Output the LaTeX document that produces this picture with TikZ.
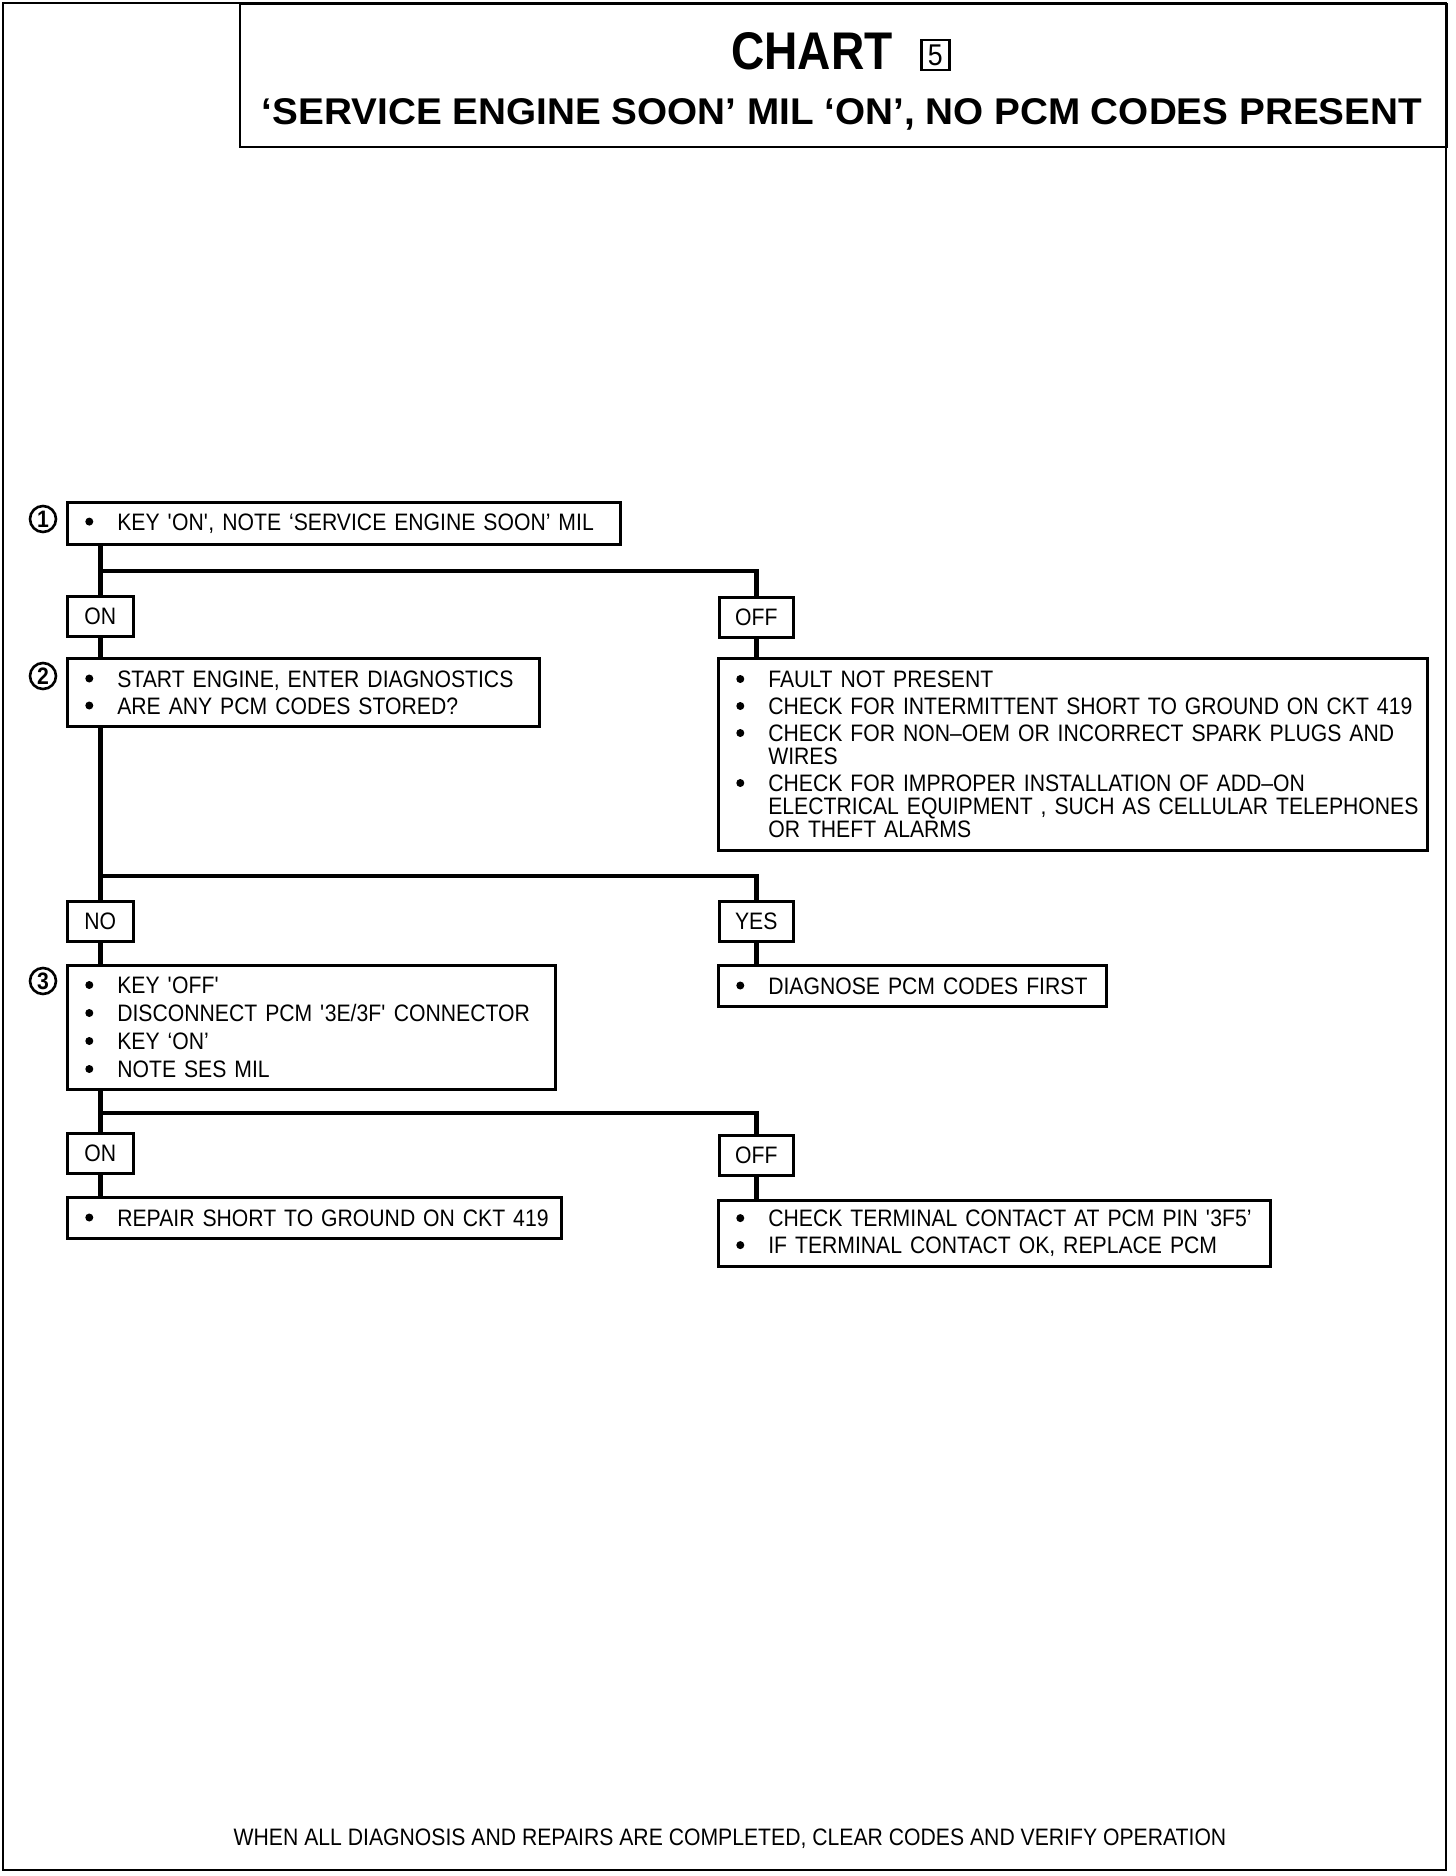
\documentclass[tikz,border=0pt]{standalone}
\usepackage{fontspec}
\setmainfont[Ligatures=TeX]{Liberation Sans}
\newfontfamily\chartfont[Ligatures=TeX, FakeStretch=0.89]{Liberation Sans}
\newfontfamily\titlefont[Ligatures=TeX, FakeStretch=1.04]{Liberation Sans}
\newfontfamily\headfont[Ligatures=TeX, FakeStretch=0.87]{Liberation Sans}
\usetikzlibrary{positioning,calc}

\newcommand{\bodysize}{\chartfont\fontsize{11.9}{11.5}\selectfont}
\newcommand{\chdot}{\tikz[baseline=-4.25pt]\fill (0,0) circle (2pt);}
\newcommand{\chbul}{\hspace*{4pt}\makebox[17pt][l]{\hspace*{1pt}\chdot}}
\newcommand{\chind}{\hspace*{21pt}}
\newcommand{\sq}{\textquotesingle}

\begin{document}
\begin{tikzpicture}[
  x=0.5pt, y=-0.5pt,
  font=\bodysize,
  frame/.style={draw, line width=1.2pt},
  stepbox/.style={
    draw, line width=1.3pt, anchor=north west,
    inner xsep=4pt, inner ysep=0pt, align=left
  },
  answerbox/.style={
    draw, line width=1.3pt, anchor=north west,
    inner sep=0pt, minimum height=20pt
  },
  leftanswer/.style={answerbox, minimum width=33pt},
  rightanswer/.style={answerbox, minimum width=37pt},
  numcircle/.style={
    circle, draw, line width=1.3pt, minimum size=13pt, inner sep=0pt,
    font=\bodysize\bfseries
  },
  link/.style={line width=2.3pt}
]
\useasboundingbox (0,0) rectangle (1456,1876);

% Outer frame and title block
\draw[frame] (3,3) rectangle (1446,1870);
\node[frame, anchor=north west, minimum width=603.5pt, minimum height=71.5pt,
  inner sep=0pt] (head) at (239,3) {};
\node[inner sep=0pt, font=\headfont\bfseries\fontsize{26.5}{26.5}\selectfont]
  (chart) at (812,51) {CHART};
\node[draw, line width=1.3pt, inner sep=0pt, minimum width=14pt,
  minimum height=15pt, anchor=south west,
  font=\chartfont\fontsize{15}{15}\selectfont]
  (chartno) at ([xshift=13.5pt,yshift=-1pt]chart.base east) {5};
\node[inner sep=0pt, font=\titlefont\bfseries\fontsize{18.6}{18.6}\selectfont]
  (subtitle) at (842,114) {`SERVICE ENGINE SOON' MIL `ON', NO PCM CODES PRESENT};

% Step 1
\node[stepbox, text width=268.5pt, minimum height=21pt] (k1) at (66,501)
  {\chbul KEY \sq ON\sq, NOTE `SERVICE ENGINE SOON' MIL};
\node[numcircle] (c1) at (43,519) {1};
\node[leftanswer] (on1) at (66,595) {ON};
\node[rightanswer] (off1) at (718,596) {OFF};

% Step 2
\node[stepbox, text width=228pt, minimum height=34pt] (k2) at (66,657)
  {\chbul START ENGINE, ENTER DIAGNOSTICS\\[2pt]
   \chbul ARE ANY PCM CODES STORED?};
\node[numcircle] (c2) at (43,676) {2};
\node[stepbox, text width=346.5pt, minimum height=96pt] (r1) at (717,657)
  {\chbul FAULT NOT PRESENT\\[2pt]
   \chbul CHECK FOR INTERMITTENT SHORT TO GROUND ON CKT 419\\[2pt]
   \chbul CHECK FOR NON--OEM OR INCORRECT SPARK PLUGS AND\\
   \chind WIRES\\[2pt]
   \chbul CHECK FOR IMPROPER INSTALLATION OF ADD--ON\\
   \chind ELECTRICAL EQUIPMENT , SUCH AS CELLULAR TELEPHONES\\
   \chind OR THEFT ALARMS};
\node[leftanswer] (no1) at (66,900) {NO};
\node[rightanswer] (yes1) at (718,900) {YES};

% Step 3
\node[stepbox, text width=236pt, minimum height=62pt] (k3) at (66,964)
  {\chbul KEY \sq OFF\sq\\[2.5pt]
   \chbul DISCONNECT PCM \sq 3E/3F\sq{} CONNECTOR\\[2.5pt]
   \chbul KEY `ON'\\[2.5pt]
   \chbul NOTE SES MIL};
\node[numcircle] (c3) at (43,981) {3};
\node[stepbox, text width=186pt, minimum height=20.5pt] (r2) at (717,964)
  {\chbul DIAGNOSE PCM CODES FIRST};
\node[leftanswer] (on2) at (66,1132) {ON};
\node[rightanswer] (off2) at (718,1134) {OFF};

% Results
\node[stepbox, text width=239pt, minimum height=20.5pt] (r3) at (66,1196)
  {\chbul REPAIR SHORT TO GROUND ON CKT 419};
\node[stepbox, text width=268pt, minimum height=33pt] (r4) at (717,1199)
  {\chbul CHECK TERMINAL CONTACT AT PCM PIN \sq 3F5'\\[2pt]
   \chbul IF TERMINAL CONTACT OK, REPLACE PCM};

% Branch points
\coordinate (j1) at ([yshift=12pt]on1.north);
\coordinate (j2) at ([yshift=12pt]no1.north);
\coordinate (j3) at ([yshift=9.5pt]on2.north);

% Connectors
\draw[link] (k1.south -| on1.north) -- (on1.north);
\draw[link] (j1) -| (off1.north);
\draw[link] (on1.south) -- (on1.south |- k2.north);
\draw[link] (off1.south) -- (off1.south |- r1.north);
\draw[link] (k2.south -| no1.north) -- (no1.north);
\draw[link] (j2) -| (yes1.north);
\draw[link] (no1.south) -- (no1.south |- k3.north);
\draw[link] (yes1.south) -- (yes1.south |- r2.north);
\draw[link] (k3.south -| on2.north) -- (on2.north);
\draw[link] (j3) -| (off2.north);
\draw[link] (on2.south) -- (on2.south |- r3.north);
\draw[link] (off2.south) -- (off2.south |- r4.north);

% Footer
\node (footer) at (730,1839)
  {WHEN ALL DIAGNOSIS AND REPAIRS ARE COMPLETED, CLEAR CODES AND VERIFY OPERATION};

\end{tikzpicture}
\end{document}
